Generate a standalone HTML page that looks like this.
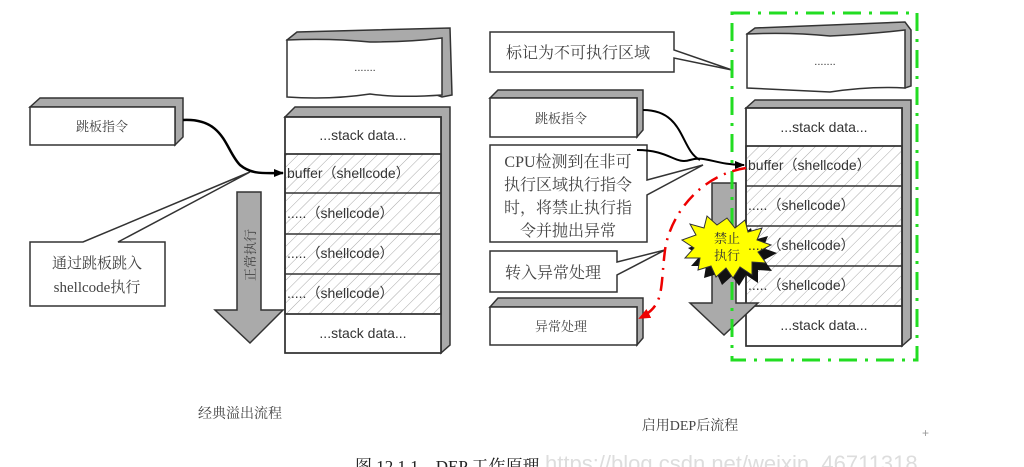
<!DOCTYPE html>
<html><head><meta charset="utf-8"><style>
html,body{margin:0;padding:0;background:#fff;}
svg{display:block;}
.cj{font-family:"Liberation Serif","Noto Serif CJK SC","Noto Sans CJK SC",serif;fill:#444;}
.en{font-family:"Liberation Sans",sans-serif;fill:#333;}
</style></head><body>
<svg width="1024" height="467" viewBox="0 0 1024 467" xmlns="http://www.w3.org/2000/svg">
<defs>
<pattern id="h" width="8" height="8" patternUnits="userSpaceOnUse" patternTransform="rotate(45)">
<line x1="0" y1="0" x2="0" y2="8" stroke="#aaa" stroke-width="1"/>
</pattern>
<marker id="ab" markerWidth="10" markerHeight="8" refX="9" refY="4" orient="auto" markerUnits="userSpaceOnUse">
<path d="M0,0 L10,4 L0,8z" fill="#000"/></marker>
<marker id="ar" markerWidth="12" markerHeight="10" refX="10" refY="5" orient="auto" markerUnits="userSpaceOnUse">
<path d="M0,0 L12,5 L0,10z" fill="#e00"/></marker>
</defs>
<g stroke="#333" stroke-width="1.5">
<path d="M287,40 L297,32 L450,28 L452,95 L442,97z" fill="#aaa"/>
<path d="M287,40 Q330,38 370,42 Q410,42 442,38 L442,95 Q400,98 370,94 Q330,100 287,97z" fill="#fff"/>
<path d="M285,117 L295,107 L450,107 L450,345 L441,353 L441,117z" fill="#aaa"/>
<rect x="285" y="117" width="156" height="236" fill="#fff"/>
<rect x="285" y="154" width="156" height="160" fill="url(#h)"/>
<line x1="285" y1="154" x2="441" y2="154"/><line x1="285" y1="193" x2="441" y2="193"/>
<line x1="285" y1="234" x2="441" y2="234"/><line x1="285" y1="274" x2="441" y2="274"/>
<line x1="285" y1="314" x2="441" y2="314"/>
<rect x="285" y="117" width="156" height="236" fill="none"/>
<path d="M30,107 L40,98 L183,98 L183,137 L175,145 L175,107z" fill="#aaa"/>
<rect x="30" y="107" width="145" height="38" fill="#fff"/>
<path d="M30,242 L83,242 L250,172 L118,242 L165,242 L165,306 L30,306z" fill="#fff"/>
<path d="M237,192 L261,192 L261,310 L283,310 L250,343 L215,310 L237,310z" fill="#aaa"/>
</g>
<path d="M183,120 C225,118 225,150 240,165 C252,175 265,173 283,173" fill="none" stroke="#000" stroke-width="2.5" marker-end="url(#ab)"/>

<g stroke="#333" stroke-width="1.5">
<path d="M747,34 L755,28 L905,22 L911,30 L911,86 L905,88z" fill="#aaa"/>
<path d="M747,34 Q790,32 830,36 Q870,34 905,30 L905,88 Q870,86 830,92 Q790,90 747,88z" fill="#fff"/>
<path d="M746,108 L755,100 L911,100 L911,338 L902,346 L902,108z" fill="#aaa"/>
<rect x="746" y="108" width="156" height="238" fill="#fff"/>
<rect x="746" y="146" width="156" height="160" fill="url(#h)"/>
<line x1="746" y1="146" x2="902" y2="146"/><line x1="746" y1="186" x2="902" y2="186"/>
<line x1="746" y1="226" x2="902" y2="226"/><line x1="746" y1="266" x2="902" y2="266"/>
<line x1="746" y1="306" x2="902" y2="306"/>
<rect x="746" y="108" width="156" height="238" fill="none"/>
<path d="M490,32 L674,32 L674,50 L732,70 L674,58 L674,72 L490,72z" fill="#fff"/>
<path d="M490,98 L498,90 L643,90 L643,130 L637,137 L637,98z" fill="#aaa"/>
<rect x="490" y="98" width="147" height="39" fill="#fff"/>
<path d="M490,145 L647,145 L647,180 L703,165 L647,195 L647,242 L490,242z" fill="#fff"/>
<path d="M490,251 L617,251 L617,262 L665,250 L617,275 L617,292 L490,292z" fill="#fff"/>
<path d="M490,307 L498,298 L643,298 L643,338 L637,345 L637,307z" fill="#aaa"/>
<rect x="490" y="307" width="147" height="38" fill="#fff"/>
<path d="M712,183 L736,183 L736,303 L758,303 L724,335 L690,303 L712,303z" fill="#aaa"/>
</g>
<rect x="732" y="13" width="185" height="347" fill="none" stroke="#2d2" stroke-width="3" stroke-dasharray="18,8,3,8"/>
<path d="M637,150 C670,150 675,165 690,160 C705,155 715,165 744,165" fill="none" stroke="#000" stroke-width="2" marker-end="url(#ab)"/>
<path d="M643,110 C685,110 680,150 700,160" fill="none" stroke="#000" stroke-width="2"/>
<path d="M746,168 C700,175 670,215 665,250 C660,290 665,305 640,318" fill="none" stroke="#e00" stroke-width="2.5" stroke-dasharray="14,7,2,7" marker-end="url(#ar)"/>
<polygon transform="translate(6,8)" points="727,218 735,228 745,220 748,232 762,228 757,240 771,245 758,252 766,263 752,262 752,275 740,267 733,278 726,268 716,277 711,266 698,270 700,258 685,258 694,248 682,240 696,235 690,224 704,228 707,216 717,225" fill="#111"/>
<polygon points="727,218 735,228 745,220 748,232 762,228 757,240 771,245 758,252 766,263 752,262 752,275 740,267 733,278 726,268 716,277 711,266 698,270 700,258 685,258 694,248 682,240 696,235 690,224 704,228 707,216 717,225" fill="#ff0" stroke="#333" stroke-width="1"/>

<g class="en" font-size="14">
<text x="365" y="71" text-anchor="middle" font-size="11">.......</text>
<text x="363" y="140" text-anchor="middle">...stack data...</text>
<text x="287" y="178">buffer（shellcode）</text>
<text x="287" y="218">.....（shellcode）</text>
<text x="287" y="258">.....（shellcode）</text>
<text x="287" y="298">.....（shellcode）</text>
<text x="363" y="338" text-anchor="middle">...stack data...</text>
<text x="825" y="65" text-anchor="middle" font-size="11">.......</text>
<text x="824" y="132" text-anchor="middle">...stack data...</text>
<text x="748" y="170">buffer（shellcode）</text>
<text x="748" y="210">.....（shellcode）</text>
<text x="748" y="250">.....（shellcode）</text>
<text x="748" y="290">.....（shellcode）</text>
<text x="824" y="330" text-anchor="middle">...stack data...</text>
</g>
<g class="cj">
<text x="102" y="131" font-size="13" text-anchor="middle">跳板指令</text>
<text x="97" y="268" font-size="15" text-anchor="middle">通过跳板跳入</text>
<text x="97" y="292" font-size="15" text-anchor="middle">shellcode执行</text>
<text transform="translate(255,255) rotate(-90)" font-size="13" text-anchor="middle">正常执行</text>
<text x="240" y="418" font-size="14" text-anchor="middle">经典溢出流程</text>
<text x="578" y="58" font-size="16" text-anchor="middle">标记为不可执行区域</text>
<text x="561" y="123" font-size="13" text-anchor="middle">跳板指令</text>
<text x="568" y="167" font-size="16" text-anchor="middle">CPU检测到在非可</text>
<text x="568" y="190" font-size="16" text-anchor="middle">执行区域执行指令</text>
<text x="568" y="213" font-size="16" text-anchor="middle">时，将禁止执行指</text>
<text x="568" y="236" font-size="16" text-anchor="middle">令并抛出异常</text>
<text x="553" y="278" font-size="16" text-anchor="middle">转入异常处理</text>
<text x="561" y="331" font-size="13" text-anchor="middle">异常处理</text>
<text x="727" y="243" font-size="13" text-anchor="middle" fill="#333">禁止</text>
<text x="727" y="260" font-size="13" text-anchor="middle" fill="#333">执行</text>
<text x="690" y="430" font-size="14" text-anchor="middle">启用DEP后流程</text>
<text x="355" y="472" font-size="17" fill="#222">图 12.1.1　DEP 工作原理</text>
</g>
<text x="545" y="471" font-family="Liberation Sans,sans-serif" font-size="22" fill="#ddd">https://blog.csdn.net/weixin_46711318</text>
<text x="922" y="437" font-size="12" fill="#999" font-family="Liberation Sans,sans-serif">+</text>
</svg>
</body></html>
